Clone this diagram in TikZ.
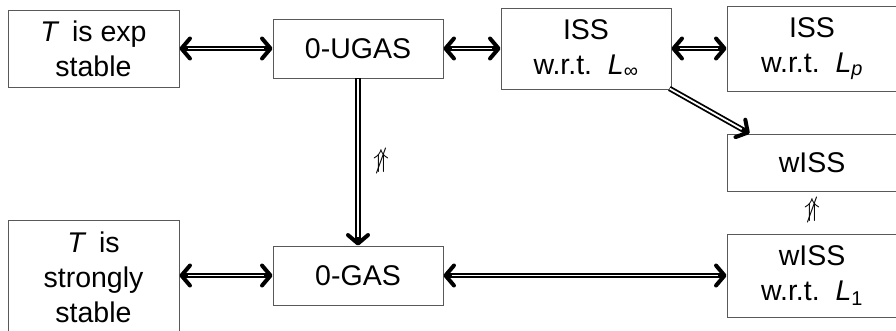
\documentclass[tikz,border=0pt]{standalone}
\usepackage{graphicx}
\usepackage{fontspec}
\setmainfont{Liberation Sans}
\usetikzlibrary{arrows.meta}
% slashed double arrow "does not imply"
\newcommand\notimpl{\scalebox{2.6}{\ooalign{$\Uparrow$\cr\hidewidth$/$\hidewidth}}}
\begin{document}
\begin{tikzpicture}[x=1pt, y=-1pt,
  font=\fontsize{28.5}{35}\selectfont,
  box/.style={draw=black!65, line width=0.9pt, inner sep=0pt, align=center},
  tip/.tip={Straight Barb[length=8.5pt, width=20pt, line width=4pt, round]},
  % double-stroked implication: thick black stroke with a white core
  dblboth/.style={draw, line width=5.4pt, {tip}-{tip},
    postaction={draw, white, line width=1.8pt, arrows=-, shorten <=9pt, shorten >=9pt}},
  dblone/.style={draw, line width=5.4pt, -{tip},
    postaction={draw, white, line width=1.8pt, arrows=-, shorten <=0.5pt, shorten >=9pt}},
  noimp/.style={inner sep=0pt, font=\normalsize}]
\useasboundingbox (0,0) rectangle (896,330);

% top row
\node[box, minimum width=171pt, minimum height=77pt] (A) at (93.5,48.5) {\textit{T}\, is exp\\stable};
\node[box, minimum width=170pt, minimum height=59pt] (B) at (358,48.5) {0-UGAS};
\node[box, minimum width=170pt, minimum height=81pt] (C) at (586,48.5) {ISS\\w.r.t.\ \ \textit{L}\textsubscript{∞}};
\node[box, minimum width=170pt, minimum height=85pt] (D) at (812,48.5) {ISS\\w.r.t.\ \ \textit{L}\textsubscript{\textit{p}}};

% right column
\node[box, minimum width=170pt, minimum height=57pt] (E) at (812,162.5) {wISS};
\node[box, minimum width=170pt, minimum height=83pt] (F) at (812,275.5) {wISS\\w.r.t.\ \ \textit{L}\textsubscript{1}};

% bottom row
\node[box, minimum width=171pt, minimum height=115pt] (G) at (93.5,277.5) {\textit{T}\, is\\strongly\\stable};
\node[box, minimum width=170pt, minimum height=59pt] (H) at (358,275.5) {0-GAS};

% implications
\draw[dblboth] (A.east) -- (B.west);
\draw[dblboth] (B.east) -- (C.west);
\draw[dblboth] (C.east) -- (D.west);
\draw[dblboth] (H.west -| G.east) -- (H.west);
\draw[dblboth] (H.east) -- (F.west);
\draw[dblone] (B.south) -- (H.north);
\draw[dblone] ([shift={(-2pt,1pt)}]C.south east) -- ([xshift=23pt]E.north west);

% non-implications
\node[noimp] (n1) at (381,162) {\notimpl};
\node[noimp] (n2) at (812,211) {\notimpl};
\end{tikzpicture}
\end{document}
